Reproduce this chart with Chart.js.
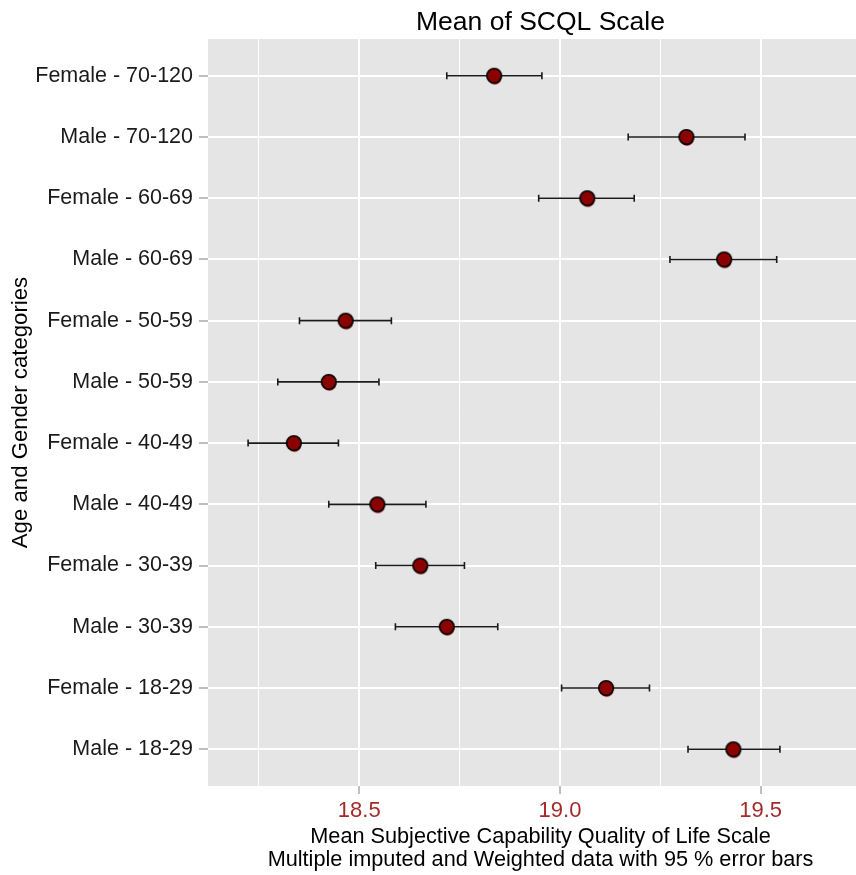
<!DOCTYPE html>
<html>
<head>
<meta charset="utf-8">
<script src="https://cdn.jsdelivr.net/npm/chart.js@4.4.0/dist/chart.umd.min.js"></script>
<style>
  html, body { margin: 0; background: #ffffff; overflow: hidden; }
  #wrap { width: 882px; height: 875px; position: relative; }
</style>
</head>
<body>
<div id="wrap"><canvas id="scql-canvas"></canvas></div>
<script>
// categories top to bottom
const categories = [
    "Female - 70-120", "Male - 70-120",
    "Female - 60-69", "Male - 60-69",
    "Female - 50-59", "Male - 50-59",
    "Female - 40-49", "Male - 40-49",
    "Female - 30-39", "Male - 30-39",
    "Female - 18-29", "Male - 18-29"
]
const means = [18.836, 19.315, 19.068, 19.409, 18.466, 18.424, 18.337, 18.545, 18.652, 18.718, 19.115, 19.432]
const lower = [18.718, 19.170, 18.947, 19.274, 18.351, 18.297, 18.223, 18.424, 18.541, 18.590, 19.004, 19.319]
const upper = [18.955, 19.461, 19.185, 19.540, 18.580, 18.549, 18.448, 18.666, 18.762, 18.845, 19.223, 19.548]
const x_ticks = [18.25, 18.5, 18.75, 19.0, 19.25, 19.5, 19.75]
const x_major = [18.5, 19.0, 19.5]

const font_family = "'Liberation Sans', Arial, Helvetica, sans-serif"

function isMajor(v){
    return x_major.some(m => Math.abs(m - v) < 1e-6)
}

// point marker: dark red dot with black ring and a small red shadow below
function makeMarker(){
    const c = document.createElement("canvas")
    c.width = 24
    c.height = 24
    const g = c.getContext("2d")
    g.fillStyle = "#a00000"
    g.beginPath()
    g.arc(12.6, 14, 6.8, 0, Math.PI * 2)
    g.fill()
    g.fillStyle = "#8b0000"
    g.strokeStyle = "#000000"
    g.lineWidth = 1.6
    g.beginPath()
    g.arc(12, 12, 7.3, 0, Math.PI * 2)
    g.fill()
    g.stroke()
    return c
}

// grey panel behind the grid
const panelBackground = {
    id: "panelBackground",
    beforeDraw(chart){
        const {ctx, chartArea} = chart
        ctx.save()
        ctx.fillStyle = "#e5e5e5"
        ctx.fillRect(chartArea.left, chartArea.top, chartArea.right - chartArea.left, chartArea.bottom - chartArea.top)
        ctx.restore()
    }
}

// horizontal 95% error bars drawn under the points
const errorBars = {
    id: "errorBars",
    beforeDatasetsDraw(chart){
        const {ctx} = chart
        const xs = chart.scales.x
        const ys = chart.scales.y
        ctx.save()
        ctx.strokeStyle = "#1a1a1a"
        ctx.lineWidth = 1.6
        for (let i = 0; i < categories.length; i++){
            const y = ys.getPixelForValue(i)
            const x1 = xs.getPixelForValue(lower[i])
            const x2 = xs.getPixelForValue(upper[i])
            ctx.beginPath()
            ctx.moveTo(x1, y)
            ctx.lineTo(x2, y)
            ctx.moveTo(x1, y - 3.5)
            ctx.lineTo(x1, y + 3.5)
            ctx.moveTo(x2, y - 3.5)
            ctx.lineTo(x2, y + 3.5)
            ctx.stroke()
        }
        ctx.restore()
    }
}

const points = means.map((m, i) => ({x: m, y: i}))

new Chart(document.getElementById("scql-canvas"), {
    type: "scatter",
    data: {
        datasets: [{
            label: "Mean",
            data: points,
            pointStyle: makeMarker(),
            backgroundColor: "#8b0000",
            borderColor: "#000000",
            pointRadius: 8
        }]
    },
    options: {
        responsive: true,
        maintainAspectRatio: false,
        animation: false,
        events: [],
        layout: {
            padding: {left: 0, top: 0, bottom: 0, right: 0}
        },
        plugins: {
            legend: {display: false},
            tooltip: {enabled: false},
            title: {display: false}
        },
        scales: {
            x: {
                type: "linear",
                position: "bottom",
                min: 18.1231,
                max: 19.7799,
                afterBuildTicks: function(scale){
                    scale.ticks = x_ticks.map(v => ({value: v}))
                },
                afterFit: function(scale){ scale.height = 89 },
                ticks: {
                    autoSkip: false,
                    maxRotation: 0,
                    padding: 4,
                    color: "#a52a2a",
                    font: {family: font_family, size: 22},
                    callback: function(v){ return isMajor(v) ? v.toFixed(1) : "" }
                },
                grid: {
                    color: "#ffffff",
                    lineWidth: ctx => (ctx.tick && isMajor(ctx.tick.value)) ? 2 : 1,
                    tickColor: ctx => (ctx.tick && isMajor(ctx.tick.value)) ? "#7f7f7f" : "rgba(0,0,0,0)",
                    tickWidth: 1,
                    tickLength: 8
                },
                border: {display: false},
                title: {
                    display: true,
                    text: ["Mean Subjective Capability Quality of Life Scale",
                           "Multiple imputed and Weighted data with 95 % error bars"],
                    color: "#000000",
                    font: {family: font_family, size: 21.7, lineHeight: 1.06},
                    padding: {top: 0, bottom: 3}
                }
            },
            x2: {
                type: "linear",
                position: "top",
                display: true,
                afterFit: function(scale){ scale.height = 39 },
                ticks: {display: false},
                grid: {display: false},
                border: {display: false},
                title: {
                    display: true,
                    text: "Mean of SCQL Scale",
                    color: "#000000",
                    font: {family: font_family, size: 26.5, lineHeight: 1.2},
                    padding: {top: 7, bottom: 0}
                }
            },
            y: {
                type: "linear",
                reverse: true,
                min: -0.6,
                max: categories.length - 1 + 0.6,
                afterBuildTicks: function(scale){
                    scale.ticks = categories.map((c, i) => ({value: i}))
                },
                afterFit: function(scale){ scale.width = 208 },
                ticks: {
                    autoSkip: false,
                    padding: 6,
                    color: "#1a1a1a",
                    font: {family: font_family, size: 21.5},
                    callback: function(v){ return categories[v] }
                },
                grid: {
                    color: "#ffffff",
                    lineWidth: 2,
                    tickColor: "#7f7f7f",
                    tickWidth: 1,
                    tickLength: 9
                },
                border: {display: false},
                title: {
                    display: true,
                    text: "Age and Gender categories",
                    color: "#000000",
                    font: {family: font_family, size: 22.2, lineHeight: 1.2},
                    padding: {top: 8, bottom: 0}
                }
            }
        }
    },
    plugins: [panelBackground, errorBars]
})
</script>
</body>
</html>
